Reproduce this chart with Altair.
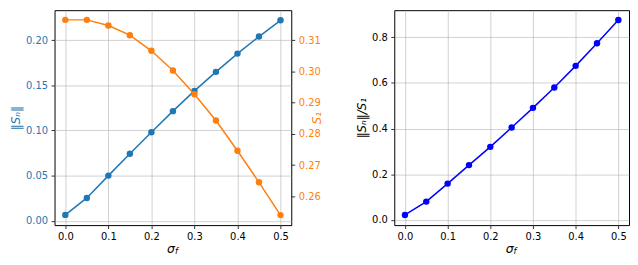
import altair as alt
import pandas as pd

sigma_f = [0.0, 0.05, 0.10, 0.15, 0.20, 0.25, 0.30, 0.35, 0.40, 0.45, 0.50]
sn_norm = [0.0065, 0.0253, 0.0500, 0.0743, 0.0980, 0.1214, 0.1438, 0.1649, 0.1851, 0.2040, 0.2220]
s1 = [0.3165, 0.3165, 0.3147, 0.3116, 0.3066, 0.3003, 0.2927, 0.2843, 0.2746, 0.2645, 0.2540]
ratio = [0.0215, 0.080, 0.159, 0.240, 0.320, 0.405, 0.491, 0.580, 0.675, 0.774, 0.876]

x_ticks = [0.0, 0.1, 0.2, 0.3, 0.4, 0.5]
sn_ticks = [0.00, 0.05, 0.10, 0.15, 0.20]
s1_ticks = [0.26, 0.27, 0.28, 0.29, 0.30, 0.31]
ratio_ticks = [0.0, 0.2, 0.4, 0.6, 0.8]

df = pd.DataFrame({"sigma": sigma_f, "sn": sn_norm, "s1": s1, "ratio": ratio})

BLUE = "#1f77b4"
ORANGE = "#ff7f0e"
FONT = "DejaVu Sans"
W1, W2, H = 239, 237, 217
MS = 42

xscale = alt.Scale(domain=[-0.025, 0.525], nice=False, zero=False)
xaxis = alt.Axis(values=x_ticks, format=".1f", title=None, grid=True, domain=False,
                 tickColor="black", labelColor="black")

base = alt.Chart(df)

blue_line = base.mark_line(color=BLUE, strokeWidth=1.5, point=alt.OverlayMarkDef(color=BLUE, size=MS, opacity=1, filled=True)).encode(
    x=alt.X("sigma:Q", scale=xscale, axis=xaxis),
    y=alt.Y("sn:Q", scale=alt.Scale(domain=[-0.0048, 0.2332], nice=False, zero=False),
            axis=alt.Axis(values=sn_ticks, format=".2f", title="‖Sₙ‖", titleFontStyle="italic",
                          titleColor=BLUE, labelColor=BLUE, grid=True, domain=False, orient="left")),
)
orange_line = base.mark_line(color=ORANGE, strokeWidth=1.5, point=alt.OverlayMarkDef(color=ORANGE, size=MS, opacity=1, filled=True)).encode(
    x=alt.X("sigma:Q", scale=xscale, axis=xaxis),
    y=alt.Y("s1:Q", scale=alt.Scale(domain=[0.2508, 0.3196], nice=False, zero=False),
            axis=alt.Axis(values=s1_ticks, format=".2f", title="S₁", titleFontStyle="italic",
                          titleColor=ORANGE, labelColor=ORANGE, grid=False, domain=False, orient="right",
                          titleAngle=270)),
)

def xtitle(w):
    t1 = alt.Chart(pd.DataFrame({"t": ["σ"]})).mark_text(
        font=FONT, fontSize=12.5, fontStyle="italic", align="right", baseline="alphabetic", color="black"
    ).encode(text="t:N", x=alt.value(w / 2 + 2), y=alt.value(H + 28))
    t2 = alt.Chart(pd.DataFrame({"t": ["f"]})).mark_text(
        font=FONT, fontSize=8.5, fontStyle="italic", align="left", baseline="alphabetic", color="black"
    ).encode(text="t:N", x=alt.value(w / 2 + 2), y=alt.value(H + 29.5))
    return t1 + t2

left = alt.layer(blue_line, orange_line).resolve_scale(y="independent").properties(width=W1, height=H)
left = alt.layer(left, xtitle(W1)).properties(width=W1, height=H)

right_line = base.mark_line(color="blue", strokeWidth=1.5, point=alt.OverlayMarkDef(color="blue", size=MS, opacity=1, filled=True)).encode(
    x=alt.X("sigma:Q", scale=xscale, axis=xaxis),
    y=alt.Y("ratio:Q", scale=alt.Scale(domain=[-0.023, 0.919], nice=False, zero=False),
            axis=alt.Axis(values=ratio_ticks, format=".1f", title="‖Sₙ‖/S₁", titleFontStyle="italic",
                          titleColor="black", labelColor="black", grid=True, domain=False)),
)
right = alt.layer(right_line, xtitle(W2)).properties(width=W2, height=H)

chart = alt.hconcat(left, right, spacing=31).properties(padding={"left": 0, "top": 0, "right": 0, "bottom": 0}).configure_view(
    stroke="black", strokeWidth=1
).configure_axis(
    labelFont=FONT, titleFont=FONT, labelFontSize=10, tickSize=3.5, labelPadding=3.5,
    titleFontSize=12, titleFontWeight="normal", titlePadding=3.5,
    gridColor="#b0b0b0", gridOpacity=0.75, gridWidth=0.8, tickColor="black", tickWidth=0.8
)

chart.save("out.html", embed_options={"renderer": "svg", "actions": False})
